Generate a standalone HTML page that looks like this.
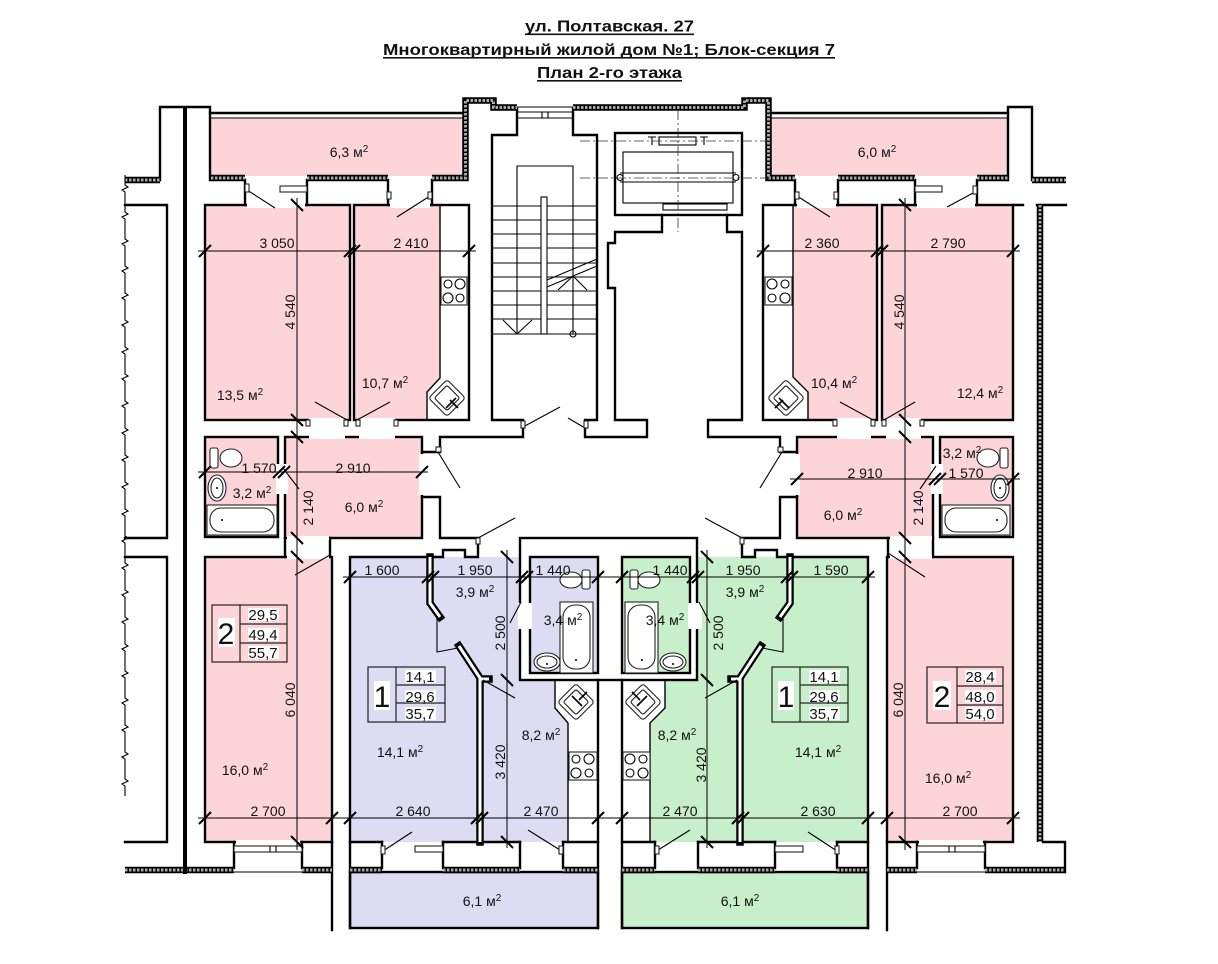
<!DOCTYPE html>
<html><head><meta charset="utf-8"><style>
html,body{margin:0;padding:0;background:#fff}
svg{display:block}
text{font-family:"Liberation Sans",Arial,sans-serif;fill:#111}
.w{fill:none;stroke:#000;stroke-width:2.4;stroke-linejoin:miter;stroke-linecap:square}
.t{fill:none;stroke:#000;stroke-width:1.1}
.f{fill:#fff;stroke:#222;stroke-width:1.1}
.hb{fill:none;stroke:#000;stroke-width:6.5}
.hg{fill:none;stroke:#aaa;stroke-width:3;stroke-dasharray:2.5 1.5}
.tk{stroke:#000;stroke-width:2}
.pb{fill:none;stroke:#000;stroke-width:7.5;stroke-linecap:square}
.pw{fill:none;stroke:#fff;stroke-width:3;stroke-linecap:butt}
.dm{fill:none;stroke:#000;stroke-width:1}
.dd{fill:none;stroke:#333;stroke-width:.8;stroke-dasharray:10 3 2 3}
.d{font-size:14px;text-anchor:middle}
.n{font-size:15px;text-anchor:middle}
.b{font-size:30px;text-anchor:middle}
.ti{font-size:16px;font-weight:bold}
.s{font-size:10px}
</style></head><body>
<svg width="1218" height="964" viewBox="0 0 1218 964" xmlns="http://www.w3.org/2000/svg">
<rect width="1218" height="964" fill="#fff"/>

<!-- TITLE -->
<text class="ti" x="525" y="31.5" textLength="169" lengthAdjust="spacingAndGlyphs">ул. Полтавская. 27</text>
<rect x="525" y="33.5" width="169" height="1.6" fill="#111"/>
<text class="ti" x="383" y="55" textLength="452" lengthAdjust="spacingAndGlyphs">Многоквартирный жилой дом №1; Блок-секция 7</text>
<rect x="383" y="57" width="452" height="1.6" fill="#111"/>
<text class="ti" x="537" y="78" textLength="145" lengthAdjust="spacingAndGlyphs">План 2-го этажа</text>
<rect x="537" y="80" width="145" height="1.6" fill="#111"/>

<!-- FILLS -->
<g fill="#fdd5d9">
<rect x="211" y="118" width="254" height="58"/>
<rect x="771" y="118" width="237" height="58"/>
<rect x="205" y="205" width="145" height="215"/>
<path d="M354,205 H440 V378 L427,392 V420 H354 Z"/>
<path d="M793,205 H877 V420 H808 V392 L793,377 Z"/>
<rect x="882" y="205" width="131" height="215"/>
<rect x="205" y="437" width="73" height="100"/>
<rect x="285" y="437" width="137" height="101"/>
<rect x="797" y="437" width="136" height="101"/>
<rect x="940" y="437" width="73" height="100"/>
<rect x="205" y="557" width="127" height="285"/>
<rect x="887" y="557" width="126" height="285"/>
</g>
<path d="M350,557 H520 V680 H598 V842 H350 Z" fill="#dddcf3"/>
<path d="M697,557 H868 V842 H622 V680 H697 Z" fill="#c7efc9"/>
<rect x="350" y="872" width="248" height="56" style="fill:#dddcf3;stroke:#000;stroke-width:2.4"/>
<rect x="622" y="872" width="246" height="56" style="fill:#c7efc9;stroke:#000;stroke-width:2.4"/>
<path d="M555,680 H598 V842 H568 V723 L555,708 Z" fill="#fff"/>
<path d="M665,680 H622 V842 H650 V723 L665,708 Z" fill="#fff"/>
<rect x="520" y="538" width="177" height="142" style="fill:#fff;stroke:#000;stroke-width:2.4"/>
<rect x="530" y="557" width="68" height="116" style="fill:#dddcf3;stroke:#000;stroke-width:2.4"/>
<rect x="622" y="557" width="68" height="116" style="fill:#c7efc9;stroke:#000;stroke-width:2.4"/>

<!-- ROOM OUTLINES -->
<g class="w">
<rect x="205" y="205" width="145" height="215"/>
<rect x="354" y="205" width="115" height="215"/>
<rect x="882" y="205" width="131" height="215"/>
<rect x="763" y="205" width="114" height="215"/>
<rect x="205" y="437" width="73" height="100"/>
<rect x="285" y="437" width="137" height="101"/>
<rect x="797" y="437" width="136" height="101"/>
<rect x="940" y="437" width="73" height="100"/>
<rect x="205" y="557" width="127" height="285"/>
<rect x="887" y="557" width="126" height="285"/>
<rect x="615" y="133" width="127" height="82"/>
</g>
<g fill="none" stroke="#000" stroke-width="1.4">
<path d="M440,205 V378 L427,392 V420"/>
<path d="M793,205 V377 L808,392 V420"/>
<path d="M555,680 V708 L568,723 V842"/>
<path d="M665,680 V708 L650,723 V842"/>
</g>

<!-- WALL LINES -->
<g class="w">
<path d="M160,180 V107 H210 V180"/>
<path d="M210,113 H463"/>
<path d="M769,113 H1008"/>
<path d="M1008,180 V107 H1032 V180"/>
<path d="M125,205 H167 V538 H125 M125,557 H167 V842 H125"/>
<path d="M245,180 V205 M307,180 V205 M388,180 V205 M432,180 V205"/>
<path d="M795,180 V205 M838,180 V205 M915,180 V205 M977,180 V205"/>
<path d="M1013,205 H1023 M1037,205 H1066"/>
<path d="M422,452 H440 V437 H523 V420 H492 V135 H517 V108"/>
<path d="M573,108 V135 H597 V420 H585"/>
<path d="M585,428 V437 H647 V420 H615 V288 H608 V243 H615 V232 H662 V215"/>
<path d="M727,215 V232 H742 V420 H708 V437 H780 V452 H797"/>
<path d="M422,497 H440 V538 H478 V557 H465 V550 H443 V557 H350 V928"/>
<path d="M797,497 H780 V538 H742 V557 H755 V550 H777 V557 H868 V928"/>
<path d="M285,538 V557 M330,538 V557 M888,538 V557 M933,538 V557"/>
<path d="M332,842 V930 M887,842 V930"/>
<path d="M598,680 V928 M622,680 V928"/>
<path d="M234,842 V868 M302,842 V868 M382,842 V868 M443,842 V868 M520,842 V868 M563,842 V868 M655,842 V868 M698,842 V868 M775,842 V868 M837,842 V868 M917,842 V868 M985,842 V868"/>
<path d="M350,842 H382 M443,842 H520 M563,842 H598 M622,842 H655 M698,842 H775 M837,842 H868"/>
<path d="M1043,842 H1065 V872"/>
</g>
<path d="M185,107 V872" stroke="#000" stroke-width="4" fill="none"/>
<path d="M211,118 H463 M771,118 H1008" class="t"/>

<!-- HATCHED OUTER WALLS -->
<g>
<path class="hb" d="M125,180 H160 M211,178 H245 M307,178 H388 M432,178 H465.5 V100.5 H493.5 V107.5 H517 M573,107.5 H744.5 V100.5 H768.5 V178 H795 M838,178 H915 M977,178 H1008 M1032,180 H1066 M1040,205 V842 M125,870 H234 M302,870 H332 M350,870 H382 M443,870 H520 M563,870 H598 M622,870 H655 M698,870 H775 M837,870 H868 M887,870 H917 M985,870 H1065"/>
<path class="hg" d="M125,180 H160 M211,178 H245 M307,178 H388 M432,178 H465.5 V100.5 H493.5 V107.5 H517 M573,107.5 H744.5 V100.5 H768.5 V178 H795 M838,178 H915 M977,178 H1008 M1032,180 H1066 M1040,205 V842 M125,870 H234 M302,870 H332 M350,870 H382 M443,870 H520 M563,870 H598 M622,870 H655 M698,870 H775 M837,870 H868 M887,870 H917 M985,870 H1065"/>
</g>
<path d="M185,866 V874" stroke="#000" stroke-width="4"/>

<!-- DOOR GAP COVERS -->
<g fill="#fff">
<rect x="247" y="202" width="58" height="6"/>
<rect x="390" y="202" width="40" height="6"/>
<rect x="797" y="202" width="39" height="6"/>
<rect x="917" y="202" width="58" height="6"/>
<rect x="309" y="418" width="36" height="21"/>
<rect x="359" y="418" width="36" height="21"/>
<rect x="837" y="418" width="34" height="21"/>
<rect x="886" y="418" width="35" height="21"/>
<rect x="276" y="464" width="12" height="30"/>
<rect x="931" y="464" width="12" height="30"/>
<rect x="419" y="454" width="6" height="41"/>
<rect x="794" y="454" width="6" height="41"/>
<rect x="287" y="536" width="42" height="4"/>
<rect x="890" y="536" width="42" height="4"/>
<rect x="287" y="555" width="42" height="4"/>
<rect x="890" y="555" width="42" height="4"/>
<rect x="236" y="840" width="64" height="4"/>
<rect x="919" y="840" width="64" height="4"/>
<rect x="518" y="603" width="14" height="26"/>
<rect x="688" y="603" width="14" height="26"/>
</g>

<!-- PARTITIONS -->
<path class="pb" d="M430,557 V603 L440,617 M459,646 L480,678 V842 M480,679 H489 M790,557 V603 L780,617 M761,646 L740,678 V842 M740,679 H731"/>
<path class="pw" d="M430,557 V603 L440,617 M459,646 L480,678 V842 M480,679 H489 M790,557 V603 L780,617 M761,646 L740,678 V842 M740,679 H731"/>

<!-- ZIGZAG BREAK LINE -->
<path class="t" d="M125,175 v10 l3,2 l-6,3 l3,2 v10 v10 l3,2 l-6,3 l3,2 v10 v10 l3,2 l-6,3 l3,2 v10 v10 l3,2 l-6,3 l3,2 v10 v10 l3,2 l-6,3 l3,2 v10 v10 l3,2 l-6,3 l3,2 v10 v10 l3,2 l-6,3 l3,2 v10 v10 l3,2 l-6,3 l3,2 v10 v10 l3,2 l-6,3 l3,2 v10 v10 l3,2 l-6,3 l3,2 v10 v10 l3,2 l-6,3 l3,2 v10 v10 l3,2 l-6,3 l3,2 v10 v10 l3,2 l-6,3 l3,2 v10 v10 l3,2 l-6,3 l3,2 v10 v10 l3,2 l-6,3 l3,2 v10 v10 l3,2 l-6,3 l3,2 v10 v10 l3,2 l-6,3 l3,2 v10 v10 l3,2 l-6,3 l3,2 v10 v10 l3,2 l-6,3 l3,2 v10 v10 l3,2 l-6,3 l3,2 v10 v10 l3,2 l-6,3 l3,2 v10 v10 l3,2 l-6,3 l3,2 v10 v10 l3,2 l-6,3 l3,2 v10"/>

<!-- DOORS, POSTS, WINDOWS -->
<g class="t">
<path d="M247,190 L275,208 M430,196 L397,217 M797,196 L830,217 M975,192 L947,207"/>
<path d="M347,420 L315,402 M357,420 L390,402 M873,420 L840,402 M884,420 L915,402"/>
<path d="M283,468 L299,489 M936,466 L920,489 M330,555 L295,575 M888,553 L925,577"/>
<path d="M523,427 L560,407 M585,428 L568,418 M438,452 L460,488 M782,452 L760,488"/>
<path d="M478,538 L515,518 M742,538 L705,518"/>
<path d="M437,617 L437,652 L458,648 M783,617 L783,652 L762,648"/>
<path d="M521,602 L510,623 M699,602 L710,623 M483,680 L515,698 M737,680 L705,698"/>
<path d="M383,851 L412,832 M837,851 L808,832 M560,850 L528,830 M658,850 L690,830"/>
</g>
<g class="f">
<rect x="245" y="184" width="4" height="8"/><rect x="387" y="192" width="4" height="7"/><rect x="428" y="192" width="4" height="7"/>
<rect x="795" y="192" width="4" height="7"/><rect x="834" y="192" width="4" height="7"/><rect x="973" y="186" width="4" height="8"/>
<rect x="306" y="420" width="4" height="6"/><rect x="344" y="420" width="4" height="6"/><rect x="356" y="420" width="4" height="6"/><rect x="394" y="420" width="4" height="6"/>
<rect x="833" y="420" width="4" height="6"/><rect x="871" y="420" width="4" height="6"/><rect x="882" y="420" width="4" height="6"/><rect x="920" y="420" width="4" height="6"/>
<rect x="521" y="421" width="4" height="7"/><rect x="584" y="421" width="4" height="7"/>
<rect x="436" y="447" width="5" height="5"/><rect x="778" y="447" width="5" height="5"/>
<rect x="476" y="538" width="4" height="6"/><rect x="740" y="538" width="4" height="6"/>
<rect x="381" y="846" width="4" height="8"/><rect x="835" y="846" width="4" height="8"/>
<rect x="559" y="846" width="4" height="8"/><rect x="655" y="846" width="4" height="8"/>
<rect x="280" y="186" width="27" height="6"/><rect x="915" y="186" width="27" height="6"/>
<rect x="234" y="846" width="68" height="6"/><rect x="917" y="846" width="68" height="6"/>
<rect x="415" y="846" width="28" height="6"/><rect x="775" y="846" width="28" height="6"/>
</g>
<path class="t" d="M234,872 H302 M917,872 H985 M270,846 V852 M276,846 V852 M949,846 V852 M955,846 V852"/>

<!-- STAIRS -->
<g class="t">
<path d="M492,206 H541 M547,206 H597 M492,220 H541 M547,220 H597 M492,234 H541 M547,234 H597 M492,248 H541 M547,248 H597 M492,263 H541 M547,263 H597 M492,277 H541 M547,277 H597 M492,291 H541 M547,291 H597 M492,305 H541 M547,305 H597 M492,319 H541 M547,319 H597 M492,334 H541 M547,334 H597"/>
<rect x="541" y="197" width="6" height="137"/>
<path d="M517,334 V166 H573 V334"/>
<circle cx="573" cy="334" r="3"/>
<path d="M503,320 L517,334 L532,320"/>
<path d="M547,280 L597,259 M547,287 L597,266"/>
<path d="M558,290 L573,276 L587,290"/>
<path d="M517,107 H573 M517,112 H573 M517,118 H573 M542,112 V118 M548,112 V118"/>
</g>

<!-- ELEVATOR -->
<g class="t">
<rect x="623" y="152" width="110" height="51"/>
<path d="M620,173 H736 M620,182 H736"/>
<circle cx="620" cy="177.5" r="3"/><circle cx="736" cy="177.5" r="3"/>
<rect x="659" y="137" width="37" height="8"/>
<path d="M648,137 H656 M652,137 V145 M700,137 H708 M704,137 V145"/>
<rect x="663" y="204" width="64" height="6"/>
</g>
<path class="dd" d="M678,110 V232 M580,141 H770 M580,178 H770"/>

<!-- KITCHEN FIXTURES -->
<g class="f">
<rect x="441" y="277" width="26" height="28"/><rect x="765" y="277" width="27" height="28"/>
<rect x="569" y="752" width="28" height="28"/><rect x="623" y="752" width="27" height="28"/>
</g>
<g class="t">
<circle cx="448" cy="284" r="4"/><circle cx="460" cy="284" r="5"/><circle cx="448" cy="298" r="5"/><circle cx="460" cy="298" r="4"/>
<circle cx="772" cy="284" r="5"/><circle cx="785" cy="284" r="4"/><circle cx="772" cy="298" r="4"/><circle cx="785" cy="298" r="5"/>
<circle cx="576" cy="759" r="4"/><circle cx="589" cy="759" r="5"/><circle cx="576" cy="773" r="5"/><circle cx="589" cy="773" r="4"/>
<circle cx="630" cy="759" r="5"/><circle cx="643" cy="759" r="4"/><circle cx="630" cy="773" r="4"/><circle cx="643" cy="773" r="5"/>
</g>
<g class="f">
<g transform="translate(447,398) rotate(45)"><rect x="-13" y="-13" width="26" height="26" rx="3"/><rect x="-9" y="-9" width="18" height="18" rx="2"/></g>
<g transform="translate(786,398) rotate(45)"><rect x="-13" y="-13" width="26" height="26" rx="3"/><rect x="-9" y="-9" width="18" height="18" rx="2"/></g>
<g transform="translate(576,702) rotate(45)"><rect x="-13" y="-13" width="26" height="26" rx="3"/><rect x="-9" y="-9" width="18" height="18" rx="2"/></g>
<g transform="translate(643,702) rotate(45)"><rect x="-13" y="-13" width="26" height="26" rx="3"/><rect x="-9" y="-9" width="18" height="18" rx="2"/></g>
</g>
<path d="M450,400 L458,408 M446,408 L456,398 M783,400 L775,408 M779,398 L789,408 M579,700 L587,692 M572,696 L582,706 M640,700 L632,692 M637,706 L647,696" stroke="#000" stroke-width="1.6"/>

<!-- BATH FIXTURES -->
<g class="f">
<rect x="210" y="448" width="8" height="20" rx="2"/><ellipse cx="231" cy="458" rx="11" ry="9"/>
<rect x="1000" y="448" width="8" height="20" rx="2"/><ellipse cx="988" cy="458" rx="11" ry="9"/>
<rect x="582" y="570" width="8" height="19" rx="2"/><ellipse cx="571" cy="580" rx="11" ry="8"/>
<rect x="630" y="570" width="8" height="19" rx="2"/><ellipse cx="649" cy="580" rx="11" ry="8"/>
<ellipse cx="217" cy="488" rx="9" ry="13"/><ellipse cx="217" cy="488" rx="6" ry="10"/>
<ellipse cx="1000" cy="488" rx="9" ry="13"/><ellipse cx="1000" cy="488" rx="6" ry="10"/>
<ellipse cx="547" cy="662" rx="13" ry="9"/><ellipse cx="547" cy="662" rx="10" ry="6"/>
<ellipse cx="673" cy="662" rx="13" ry="9"/><ellipse cx="673" cy="662" rx="10" ry="6"/>
<rect x="207" y="505" width="70" height="30"/><rect x="210" y="508" width="64" height="24" rx="11"/>
<rect x="942" y="505" width="68" height="30"/><rect x="945" y="508" width="62" height="24" rx="11"/>
<rect x="560" y="602" width="33" height="71"/><rect x="563" y="605" width="27" height="64" rx="12"/>
<rect x="625" y="602" width="33" height="71"/><rect x="628" y="605" width="27" height="64" rx="12"/>
</g>
<g fill="#000"><circle cx="217" cy="488" r="1"/><circle cx="1000" cy="488" r="1"/><circle cx="547" cy="664" r="1"/><circle cx="673" cy="664" r="1"/><circle cx="222" cy="520" r="1"/><circle cx="997" cy="520" r="1"/><circle cx="576" cy="660" r="1"/><circle cx="642" cy="660" r="1"/></g>

<!-- DIMENSIONS -->
<g class="dm">
<path d="M198,251 H476 M757,251 H1020 M198,472 H428 M790,479 H1020 M343,577 H875 M198,818 H1020"/>
<path d="M297,198 V850 M905,198 V850 M507,550 V848 M707,550 V848"/>
</g>
<g class="tk">
<path d="M199,257 L211,245 M344,257 L356,245 M348,257 L360,245 M463,257 L475,245 M757,257 L769,245 M871,257 L883,245 M876,257 L888,245 M1007,257 L1019,245"/>
<path d="M199,478 L211,466 M273,478 L285,466 M278,478 L290,466 M416,478 L428,466"/>
<path d="M791,485 L803,473 M929,485 L941,473 M934,485 L946,473 M1007,485 L1019,473"/>
<path d="M344,583 L356,571 M422,583 L434,571 M427,583 L439,571 M516,583 L528,571 M521,583 L533,571 M592,583 L604,571 M616,583 L628,571 M687,583 L699,571 M692,583 L704,571 M781,583 L793,571 M786,583 L798,571 M862,583 L874,571"/>
<path d="M199,824 L211,812 M326,824 L338,812 M344,824 L356,812 M471,824 L483,812 M476,824 L488,812 M592,824 L604,812 M616,824 L628,812 M732,824 L744,812 M737,824 L749,812 M862,824 L874,812 M881,824 L893,812 M1007,824 L1019,812"/>
<path d="M291,199 L303,211 M291,414 L303,426 M291,431 L303,443 M291,532 L303,544 M291,551 L303,563 M291,836 L303,848"/>
<path d="M899,199 L911,211 M899,414 L911,426 M899,431 L911,443 M899,532 L911,544 M899,551 L911,563 M899,836 L911,848"/>
<path d="M501,551 L513,563 M501,674 L513,686 M501,836 L513,848 M701,551 L713,563 M701,674 L713,686 M701,836 L713,848"/>
</g>

<!-- INFO BOXES -->
<g fill="#fff">
<rect x="218" y="618" width="17" height="29"/><rect x="374" y="681" width="16" height="29"/><rect x="778" y="681" width="16" height="29"/><rect x="933" y="681" width="18" height="29"/>
<rect x="248" y="608" width="31" height="13"/><rect x="248" y="628" width="31" height="13"/><rect x="248" y="646" width="31" height="13"/>
<rect x="405" y="670" width="31" height="13"/><rect x="405" y="690" width="31" height="13"/><rect x="405" y="707" width="31" height="13"/>
<rect x="809" y="670" width="31" height="13"/><rect x="809" y="690" width="31" height="13"/><rect x="809" y="707" width="31" height="13"/>
<rect x="965" y="670" width="31" height="13"/><rect x="965" y="690" width="31" height="13"/><rect x="965" y="707" width="31" height="13"/>
</g>
<g fill="none" stroke="#222" stroke-width="1.2">
<rect x="212" y="605" width="75" height="57"/><path d="M240,605 V662 M240,624 H287 M240,643 H287"/>
<rect x="368" y="667" width="77" height="55"/><path d="M396,667 V722 M396,685 H445 M396,703 H445"/>
<rect x="772" y="667" width="76" height="55"/><path d="M800,667 V722 M800,685 H848 M800,703 H848"/>
<rect x="927" y="667" width="76" height="56"/><path d="M957,667 V723 M957,686 H1003 M957,705 H1003"/>
</g>
<text class="b" x="226" y="644">2</text>
<text class="n" x="263" y="620">29,5</text><text class="n" x="263" y="640">49,4</text><text class="n" x="263" y="658">55,7</text>
<text class="b" x="382" y="707">1</text>
<text class="n" x="420" y="682">14,1</text><text class="n" x="420" y="702">29,6</text><text class="n" x="420" y="719">35,7</text>
<text class="b" x="786" y="707">1</text>
<text class="n" x="824" y="682">14,1</text><text class="n" x="824" y="702">29,6</text><text class="n" x="824" y="719">35,7</text>
<text class="b" x="942" y="707">2</text>
<text class="n" x="980" y="682">28,4</text><text class="n" x="980" y="702">48,0</text><text class="n" x="980" y="719">54,0</text>

<!-- LABELS -->
<g class="d">
<text x="349" y="157">6,3 м<tspan class="s" dy="-5">2</tspan></text>
<text x="877" y="157">6,0 м<tspan class="s" dy="-5">2</tspan></text>
<text x="277" y="248">3 050</text>
<text x="411" y="248">2 410</text>
<text x="822" y="248">2 360</text>
<text x="948" y="248">2 790</text>
<text transform="translate(295,312) rotate(-90)">4 540</text>
<text transform="translate(904,312) rotate(-90)">4 540</text>
<text x="240" y="400">13,5 м<tspan class="s" dy="-5">2</tspan></text>
<text x="385" y="388">10,7 м<tspan class="s" dy="-5">2</tspan></text>
<text x="834" y="388">10,4 м<tspan class="s" dy="-5">2</tspan></text>
<text x="980" y="398">12,4 м<tspan class="s" dy="-5">2</tspan></text>
<text x="259" y="473">1 570</text>
<text x="353" y="473">2 910</text>
<text x="252" y="498">3,2 м<tspan class="s" dy="-5">2</tspan></text>
<text x="364" y="512">6,0 м<tspan class="s" dy="-5">2</tspan></text>
<text transform="translate(313,508) rotate(-90)">2 140</text>
<text x="865" y="478">2 910</text>
<text x="966" y="478">1 570</text>
<text x="962" y="458">3,2 м<tspan class="s" dy="-5">2</tspan></text>
<text x="843" y="520">6,0 м<tspan class="s" dy="-5">2</tspan></text>
<text transform="translate(923,508) rotate(-90)">2 140</text>
<text x="382" y="575">1 600</text>
<text x="475" y="575">1 950</text>
<text x="553" y="575">1 440</text>
<text x="670" y="575">1 440</text>
<text x="743" y="575">1 950</text>
<text x="831" y="575">1 590</text>
<text x="475" y="597">3,9 м<tspan class="s" dy="-5">2</tspan></text>
<text x="745" y="597">3,9 м<tspan class="s" dy="-5">2</tspan></text>
<text x="563" y="625">3,4 м<tspan class="s" dy="-5">2</tspan></text>
<text x="665" y="625">3,4 м<tspan class="s" dy="-5">2</tspan></text>
<text transform="translate(505,633) rotate(-90)">2 500</text>
<text transform="translate(723,633) rotate(-90)">2 500</text>
<text x="541" y="740">8,2 м<tspan class="s" dy="-5">2</tspan></text>
<text x="677" y="740">8,2 м<tspan class="s" dy="-5">2</tspan></text>
<text transform="translate(505,762) rotate(-90)">3 420</text>
<text transform="translate(706,765) rotate(-90)">3 420</text>
<text x="400" y="757">14,1 м<tspan class="s" dy="-5">2</tspan></text>
<text x="818" y="757">14,1 м<tspan class="s" dy="-5">2</tspan></text>
<text x="245" y="775">16,0 м<tspan class="s" dy="-5">2</tspan></text>
<text x="948" y="783">16,0 м<tspan class="s" dy="-5">2</tspan></text>
<text transform="translate(295,700) rotate(-90)">6 040</text>
<text transform="translate(903,700) rotate(-90)">6 040</text>
<text x="268" y="816">2 700</text>
<text x="413" y="816">2 640</text>
<text x="541" y="816">2 470</text>
<text x="680" y="816">2 470</text>
<text x="818" y="816">2 630</text>
<text x="960" y="816">2 700</text>
<text x="482" y="906">6,1 м<tspan class="s" dy="-5">2</tspan></text>
<text x="740" y="906">6,1 м<tspan class="s" dy="-5">2</tspan></text>
</g>
</svg>
</body></html>
